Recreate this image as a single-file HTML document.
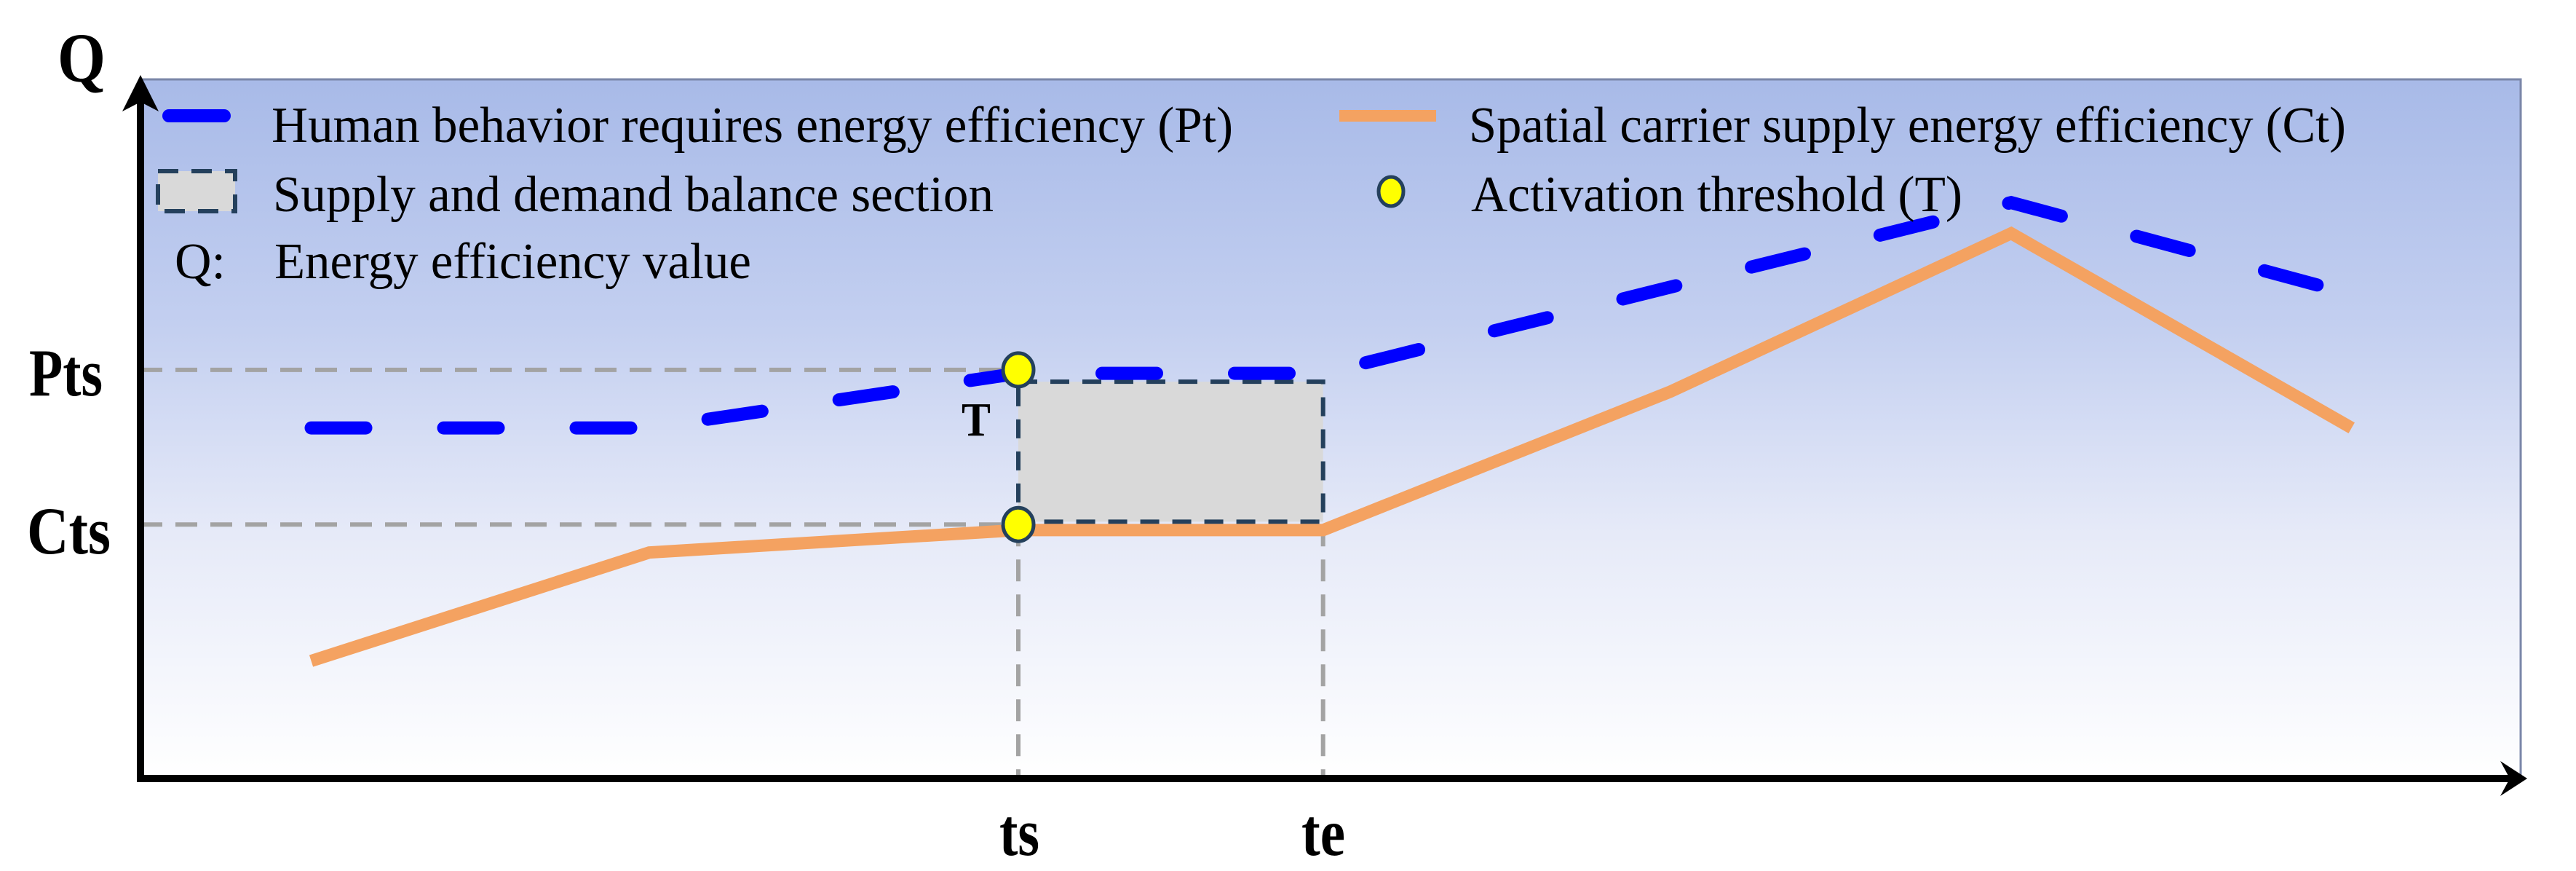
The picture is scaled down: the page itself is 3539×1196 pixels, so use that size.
<!DOCTYPE html>
<html><head><meta charset="utf-8"><style>
html,body{margin:0;padding:0;background:#fff;}
svg{display:block;font-family:"Liberation Serif",serif;}
</style></head><body>
<svg id="chart" width="3539" height="1196" viewBox="0 0 3539 1196" xmlns="http://www.w3.org/2000/svg">
<defs>
<linearGradient id="bg" x1="0" y1="0" x2="0" y2="1">
<stop offset="0" stop-color="#a8bae8"/>
<stop offset="0.35" stop-color="#c3cff0"/>
<stop offset="0.65" stop-color="#e6eaf8"/>
<stop offset="1" stop-color="#ffffff"/>
</linearGradient>
</defs>
<rect x="192" y="109" width="3271" height="961" fill="url(#bg)" stroke="#7a86a8" stroke-width="3"/>
<g id="guides"></g>
<g id="marks"></g>
<line x1="193" y1="1070" x2="193" y2="130" stroke="#000" stroke-width="10"/>
<polygon points="193,103 218,153 193,140 168,153" fill="#000"/>
<line x1="188" y1="1069" x2="3450" y2="1069" stroke="#000" stroke-width="10"/>
<polygon points="3472,1069 3435,1093 3448,1069 3435,1045" fill="#000"/>
<text x="79" y="112" font-size="96" font-weight="bold" textLength="66" lengthAdjust="spacingAndGlyphs">Q</text>
<text x="40" y="543" font-size="92" font-weight="bold" textLength="101" lengthAdjust="spacingAndGlyphs">Pts</text>
<text x="37" y="760" font-size="92" font-weight="bold" textLength="115" lengthAdjust="spacingAndGlyphs">Cts</text>
<text x="1373" y="1174" font-size="92" font-weight="bold" textLength="55" lengthAdjust="spacingAndGlyphs">ts</text>
<text x="1788" y="1174" font-size="92" font-weight="bold" textLength="60" lengthAdjust="spacingAndGlyphs">te</text>
<text x="1321" y="598" font-size="66" font-weight="bold" textLength="40" lengthAdjust="spacingAndGlyphs">T</text>
<g>
<line x1="232" y1="159" x2="308" y2="159" stroke="#0000ff" stroke-width="18" stroke-linecap="round"/>
<text x="373" y="195" font-size="70" textLength="1321" lengthAdjust="spacingAndGlyphs">Human behavior requires energy efficiency (Pt)</text>
<rect x="217" y="235" width="106" height="55" fill="#d9d9d9" stroke="#24405c" stroke-width="6" stroke-dasharray="28,18"/>
<text x="375" y="290" font-size="70" textLength="990" lengthAdjust="spacingAndGlyphs">Supply and demand balance section</text>
<text x="240" y="382" font-size="70" textLength="70" lengthAdjust="spacingAndGlyphs">Q:</text>
<text x="377" y="382" font-size="70" textLength="655" lengthAdjust="spacingAndGlyphs">Energy efficiency value</text>
<line x1="1840" y1="159" x2="1973" y2="159" stroke="#f4a261" stroke-width="16"/>
<text x="2018" y="195" font-size="70" textLength="1205" lengthAdjust="spacingAndGlyphs">Spatial carrier supply energy efficiency (Ct)</text>
<ellipse cx="1911" cy="263" rx="17" ry="20" fill="#ffff00" stroke="#24405c" stroke-width="5"/>
<text x="2021" y="290" font-size="70" textLength="675" lengthAdjust="spacingAndGlyphs">Activation threshold (T)</text>
</g>
</svg>
<script>
// data
const ptT = [7.2, 21.4, 36.9, 49.7, 78.6, 92.9];
const ptQ = [50.2, 50.2, 58.0, 58.0, 82.4, 69.3];
const ctT = [7.2, 21.4, 36.9, 49.7, 64.3, 78.6, 92.9];
const ctQ = [16.9, 32.4, 35.6, 35.6, 55.4, 78.0, 50.2];
const tsT = [36.9];
const teT = [49.7];
const ptsQ = [58.5];
const ctsQ = [36.4];
const boxQ = [56.8, 36.8];

const X0=192, X1=3463, Y0=1070, Y1=109;
function sx(t){return X0 + t/100*(X1-X0);}
function sy(q){return Y0 - q/100*(Y0-Y1);}
const NS='http://www.w3.org/2000/svg';
const guides=document.getElementById('guides');
const marks=document.getElementById('marks');
function mk(tag, parent, attrs){const e=document.createElementNS(NS,tag);for(const k in attrs)e.setAttribute(k,attrs[k]);parent.appendChild(e);return e;}

let g1=mk('line',guides,{x1:193,y1:sy(ptsQ[0]),x2:sx(tsT[0]),y2:sy(ptsQ[0]),stroke:'#a3a3a3','stroke-width':6,'stroke-dasharray':'30,18'});


let g2=mk('line',guides,{x1:193,y1:sy(ctsQ[0]),x2:sx(tsT[0]),y2:sy(ctsQ[0]),stroke:'#a3a3a3','stroke-width':6,'stroke-dasharray':'30,18'});


let g3=mk('line',guides,{x1:sx(tsT[0]),y1:sy(ctsQ[0]),x2:sx(tsT[0]),y2:1066,stroke:'#a3a3a3','stroke-width':6,'stroke-dasharray':'30,18'});


let g4=mk('line',guides,{x1:sx(teT[0]),y1:sy(ctsQ[0]),x2:sx(teT[0]),y2:1066,stroke:'#a3a3a3','stroke-width':6,'stroke-dasharray':'30,18'});



let bx=mk('rect',marks,{x:sx(tsT[0]),y:sy(boxQ[0]),width:sx(teT[0])-sx(tsT[0]),height:sy(boxQ[1])-sy(boxQ[0]),fill:'#d9d9d9',stroke:'#24405c','stroke-width':6,'stroke-dasharray':'26,18'});



let ctPts=ctT.map((t,i)=>sx(t)+','+sy(ctQ[i])).join(' ');
let ct=mk('polyline',marks,{points:ctPts,fill:'none',stroke:'#f4a261','stroke-width':17,'stroke-linejoin':'miter'});



let ptPts=ptT.map((t,i)=>sx(t)+','+sy(ptQ[i])).join(' ');
let pt=mk('polyline',marks,{points:ptPts,fill:'none',stroke:'#0000ff','stroke-width':18,'stroke-linecap':'round','stroke-dasharray':'75,107'});



let c1=mk('ellipse',marks,{cx:sx(tsT[0]),cy:sy(ptsQ[0]),rx:21,ry:23,fill:'#ffff00',stroke:'#24405c','stroke-width':5});


let c2=mk('ellipse',marks,{cx:sx(tsT[0]),cy:sy(ctsQ[0]),rx:21,ry:23,fill:'#ffff00',stroke:'#24405c','stroke-width':5});


</script>
</body></html>
